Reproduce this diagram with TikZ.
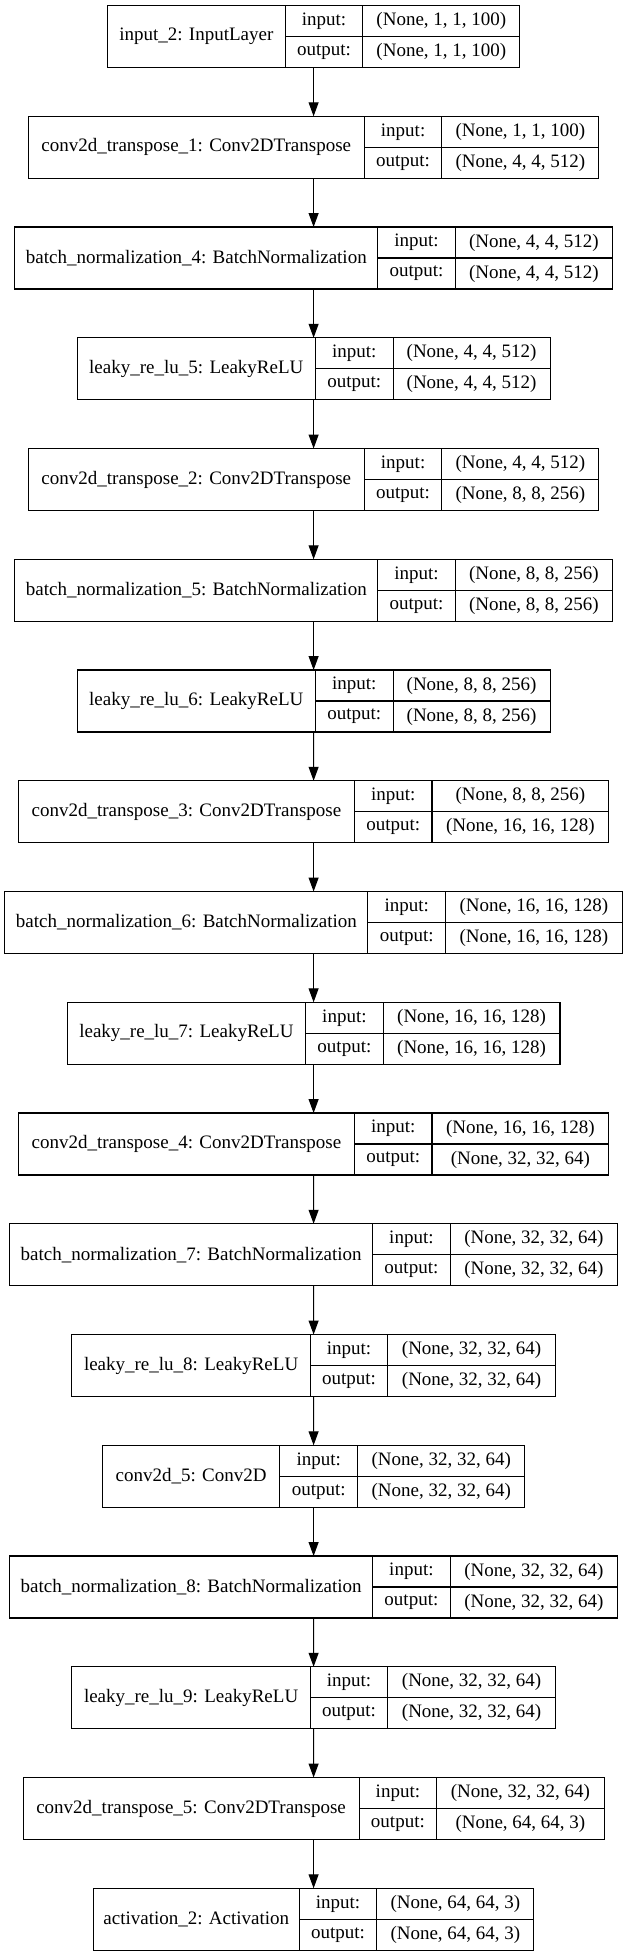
\documentclass[tikz,border=0pt]{standalone}
\usepackage{fontspec}
\setmainfont{Liberation Serif}
\usetikzlibrary{arrows.meta,positioning,fit}

\begin{document}
\begin{tikzpicture}[x=1pt, y=-1pt, line width=1.1pt, font=\fontsize{19}{22}\selectfont,
    >={Triangle[length=14pt,width=10pt]},
    cell/.style={draw, inner sep=0pt, outer sep=0pt, anchor=north west},
    layercell/.style={cell, minimum height=62pt},
    inputcell/.style={layercell, minimum width=178pt},
    convtcell/.style={layercell, minimum width=336pt},
    bncell/.style={layercell, minimum width=363pt},
    leakycell/.style={layercell, minimum width=238.4pt},
    convcell/.style={layercell, minimum width=177.6pt},
    actcell/.style={layercell, minimum width=206pt},
    keycell/.style={cell, minimum height=31pt, minimum width=77.6pt},
    valA/.style={cell, minimum height=31pt, minimum width=157pt},
    valB/.style={cell, minimum height=31pt, minimum width=176.8pt},
    valC/.style={cell, minimum height=31pt, minimum width=167.4pt},
    wholebox/.style={inner sep=0pt, outer sep=0pt}]
    \useasboundingbox (0,0) rectangle (625,1955);

    % input_2
    \node[inputcell] (in2) at (107.3,5.5) {input\_2: InputLayer};
    \node[keycell] (in2-ik) at (in2.north east) {input:};
    \node[keycell] (in2-ok) at (in2-ik.south west) {output:};
    \node[valA] (in2-iv) at (in2-ik.north east) {(None, 1, 1, 100)};
    \node[valA] (in2-ov) at (in2-iv.south west) {(None, 1, 1, 100)};
    \node[wholebox, fit=(in2)(in2-iv)(in2-ov)] (box-in2) {};

    % conv2d_transpose_1
    \node[convtcell] (ct1) at (28.3,116.25) {conv2d\_transpose\_1: Conv2DTranspose};
    \node[keycell] (ct1-ik) at (ct1.north east) {input:};
    \node[keycell] (ct1-ok) at (ct1-ik.south west) {output:};
    \node[valA] (ct1-iv) at (ct1-ik.north east) {(None, 1, 1, 100)};
    \node[valA] (ct1-ov) at (ct1-iv.south west) {(None, 4, 4, 512)};
    \node[wholebox, fit=(ct1)(ct1-iv)(ct1-ov)] (box-ct1) {};

    % batch_normalization_4
    \node[bncell] (bn4) at (14.8,227) {batch\_normalization\_4: BatchNormalization};
    \node[keycell] (bn4-ik) at (bn4.north east) {input:};
    \node[keycell] (bn4-ok) at (bn4-ik.south west) {output:};
    \node[valA] (bn4-iv) at (bn4-ik.north east) {(None, 4, 4, 512)};
    \node[valA] (bn4-ov) at (bn4-iv.south west) {(None, 4, 4, 512)};
    \node[wholebox, fit=(bn4)(bn4-iv)(bn4-ov)] (box-bn4) {};

    % leaky_re_lu_5
    \node[leakycell] (lr5) at (77.1,337.75) {leaky\_re\_lu\_5: LeakyReLU};
    \node[keycell] (lr5-ik) at (lr5.north east) {input:};
    \node[keycell] (lr5-ok) at (lr5-ik.south west) {output:};
    \node[valA] (lr5-iv) at (lr5-ik.north east) {(None, 4, 4, 512)};
    \node[valA] (lr5-ov) at (lr5-iv.south west) {(None, 4, 4, 512)};
    \node[wholebox, fit=(lr5)(lr5-iv)(lr5-ov)] (box-lr5) {};

    % conv2d_transpose_2
    \node[convtcell] (ct2) at (28.3,448.5) {conv2d\_transpose\_2: Conv2DTranspose};
    \node[keycell] (ct2-ik) at (ct2.north east) {input:};
    \node[keycell] (ct2-ok) at (ct2-ik.south west) {output:};
    \node[valA] (ct2-iv) at (ct2-ik.north east) {(None, 4, 4, 512)};
    \node[valA] (ct2-ov) at (ct2-iv.south west) {(None, 8, 8, 256)};
    \node[wholebox, fit=(ct2)(ct2-iv)(ct2-ov)] (box-ct2) {};

    % batch_normalization_5
    \node[bncell] (bn5) at (14.8,559.25) {batch\_normalization\_5: BatchNormalization};
    \node[keycell] (bn5-ik) at (bn5.north east) {input:};
    \node[keycell] (bn5-ok) at (bn5-ik.south west) {output:};
    \node[valA] (bn5-iv) at (bn5-ik.north east) {(None, 8, 8, 256)};
    \node[valA] (bn5-ov) at (bn5-iv.south west) {(None, 8, 8, 256)};
    \node[wholebox, fit=(bn5)(bn5-iv)(bn5-ov)] (box-bn5) {};

    % leaky_re_lu_6
    \node[leakycell] (lr6) at (77.1,670) {leaky\_re\_lu\_6: LeakyReLU};
    \node[keycell] (lr6-ik) at (lr6.north east) {input:};
    \node[keycell] (lr6-ok) at (lr6-ik.south west) {output:};
    \node[valA] (lr6-iv) at (lr6-ik.north east) {(None, 8, 8, 256)};
    \node[valA] (lr6-ov) at (lr6-iv.south west) {(None, 8, 8, 256)};
    \node[wholebox, fit=(lr6)(lr6-iv)(lr6-ov)] (box-lr6) {};

    % conv2d_transpose_3
    \node[convtcell] (ct3) at (18.4,780.75) {conv2d\_transpose\_3: Conv2DTranspose};
    \node[keycell] (ct3-ik) at (ct3.north east) {input:};
    \node[keycell] (ct3-ok) at (ct3-ik.south west) {output:};
    \node[valB] (ct3-iv) at (ct3-ik.north east) {(None, 8, 8, 256)};
    \node[valB] (ct3-ov) at (ct3-iv.south west) {(None, 16, 16, 128)};
    \node[wholebox, fit=(ct3)(ct3-iv)(ct3-ov)] (box-ct3) {};

    % batch_normalization_6
    \node[bncell] (bn6) at (4.9,891.5) {batch\_normalization\_6: BatchNormalization};
    \node[keycell] (bn6-ik) at (bn6.north east) {input:};
    \node[keycell] (bn6-ok) at (bn6-ik.south west) {output:};
    \node[valB] (bn6-iv) at (bn6-ik.north east) {(None, 16, 16, 128)};
    \node[valB] (bn6-ov) at (bn6-iv.south west) {(None, 16, 16, 128)};
    \node[wholebox, fit=(bn6)(bn6-iv)(bn6-ov)] (box-bn6) {};

    % leaky_re_lu_7
    \node[leakycell] (lr7) at (67.2,1002.25) {leaky\_re\_lu\_7: LeakyReLU};
    \node[keycell] (lr7-ik) at (lr7.north east) {input:};
    \node[keycell] (lr7-ok) at (lr7-ik.south west) {output:};
    \node[valB] (lr7-iv) at (lr7-ik.north east) {(None, 16, 16, 128)};
    \node[valB] (lr7-ov) at (lr7-iv.south west) {(None, 16, 16, 128)};
    \node[wholebox, fit=(lr7)(lr7-iv)(lr7-ov)] (box-lr7) {};

    % conv2d_transpose_4
    \node[convtcell] (ct4) at (18.4,1113) {conv2d\_transpose\_4: Conv2DTranspose};
    \node[keycell] (ct4-ik) at (ct4.north east) {input:};
    \node[keycell] (ct4-ok) at (ct4-ik.south west) {output:};
    \node[valB] (ct4-iv) at (ct4-ik.north east) {(None, 16, 16, 128)};
    \node[valB] (ct4-ov) at (ct4-iv.south west) {(None, 32, 32, 64)};
    \node[wholebox, fit=(ct4)(ct4-iv)(ct4-ov)] (box-ct4) {};

    % batch_normalization_7
    \node[bncell] (bn7) at (9.6,1223.75) {batch\_normalization\_7: BatchNormalization};
    \node[keycell] (bn7-ik) at (bn7.north east) {input:};
    \node[keycell] (bn7-ok) at (bn7-ik.south west) {output:};
    \node[valC] (bn7-iv) at (bn7-ik.north east) {(None, 32, 32, 64)};
    \node[valC] (bn7-ov) at (bn7-iv.south west) {(None, 32, 32, 64)};
    \node[wholebox, fit=(bn7)(bn7-iv)(bn7-ov)] (box-bn7) {};

    % leaky_re_lu_8
    \node[leakycell] (lr8) at (71.9,1334.5) {leaky\_re\_lu\_8: LeakyReLU};
    \node[keycell] (lr8-ik) at (lr8.north east) {input:};
    \node[keycell] (lr8-ok) at (lr8-ik.south west) {output:};
    \node[valC] (lr8-iv) at (lr8-ik.north east) {(None, 32, 32, 64)};
    \node[valC] (lr8-ov) at (lr8-iv.south west) {(None, 32, 32, 64)};
    \node[wholebox, fit=(lr8)(lr8-iv)(lr8-ov)] (box-lr8) {};

    % conv2d_5
    \node[convcell] (cv5) at (102.3,1445.25) {conv2d\_5: Conv2D};
    \node[keycell] (cv5-ik) at (cv5.north east) {input:};
    \node[keycell] (cv5-ok) at (cv5-ik.south west) {output:};
    \node[valC] (cv5-iv) at (cv5-ik.north east) {(None, 32, 32, 64)};
    \node[valC] (cv5-ov) at (cv5-iv.south west) {(None, 32, 32, 64)};
    \node[wholebox, fit=(cv5)(cv5-iv)(cv5-ov)] (box-cv5) {};

    % batch_normalization_8
    \node[bncell] (bn8) at (9.6,1556) {batch\_normalization\_8: BatchNormalization};
    \node[keycell] (bn8-ik) at (bn8.north east) {input:};
    \node[keycell] (bn8-ok) at (bn8-ik.south west) {output:};
    \node[valC] (bn8-iv) at (bn8-ik.north east) {(None, 32, 32, 64)};
    \node[valC] (bn8-ov) at (bn8-iv.south west) {(None, 32, 32, 64)};
    \node[wholebox, fit=(bn8)(bn8-iv)(bn8-ov)] (box-bn8) {};

    % leaky_re_lu_9
    \node[leakycell] (lr9) at (71.9,1666.75) {leaky\_re\_lu\_9: LeakyReLU};
    \node[keycell] (lr9-ik) at (lr9.north east) {input:};
    \node[keycell] (lr9-ok) at (lr9-ik.south west) {output:};
    \node[valC] (lr9-iv) at (lr9-ik.north east) {(None, 32, 32, 64)};
    \node[valC] (lr9-ov) at (lr9-iv.south west) {(None, 32, 32, 64)};
    \node[wholebox, fit=(lr9)(lr9-iv)(lr9-ov)] (box-lr9) {};

    % conv2d_transpose_5
    \node[convtcell] (ct5) at (23.1,1777.5) {conv2d\_transpose\_5: Conv2DTranspose};
    \node[keycell] (ct5-ik) at (ct5.north east) {input:};
    \node[keycell] (ct5-ok) at (ct5-ik.south west) {output:};
    \node[valC] (ct5-iv) at (ct5-ik.north east) {(None, 32, 32, 64)};
    \node[valC] (ct5-ov) at (ct5-iv.south west) {(None, 64, 64, 3)};
    \node[wholebox, fit=(ct5)(ct5-iv)(ct5-ov)] (box-ct5) {};

    % activation_2
    \node[actcell] (act2) at (93.3,1888.25) {activation\_2: Activation};
    \node[keycell] (act2-ik) at (act2.north east) {input:};
    \node[keycell] (act2-ok) at (act2-ik.south west) {output:};
    \node[valA] (act2-iv) at (act2-ik.north east) {(None, 64, 64, 3)};
    \node[valA] (act2-ov) at (act2-iv.south west) {(None, 64, 64, 3)};
    \node[wholebox, fit=(act2)(act2-iv)(act2-ov)] (box-act2) {};

    % connections
    \draw[->] (box-in2) -- (box-ct1);
    \draw[->] (box-ct1) -- (box-bn4);
    \draw[->] (box-bn4) -- (box-lr5);
    \draw[->] (box-lr5) -- (box-ct2);
    \draw[->] (box-ct2) -- (box-bn5);
    \draw[->] (box-bn5) -- (box-lr6);
    \draw[->] (box-lr6) -- (box-ct3);
    \draw[->] (box-ct3) -- (box-bn6);
    \draw[->] (box-bn6) -- (box-lr7);
    \draw[->] (box-lr7) -- (box-ct4);
    \draw[->] (box-ct4) -- (box-bn7);
    \draw[->] (box-bn7) -- (box-lr8);
    \draw[->] (box-lr8) -- (box-cv5);
    \draw[->] (box-cv5) -- (box-bn8);
    \draw[->] (box-bn8) -- (box-lr9);
    \draw[->] (box-lr9) -- (box-ct5);
    \draw[->] (box-ct5) -- (box-act2);
\end{tikzpicture}
\end{document}
